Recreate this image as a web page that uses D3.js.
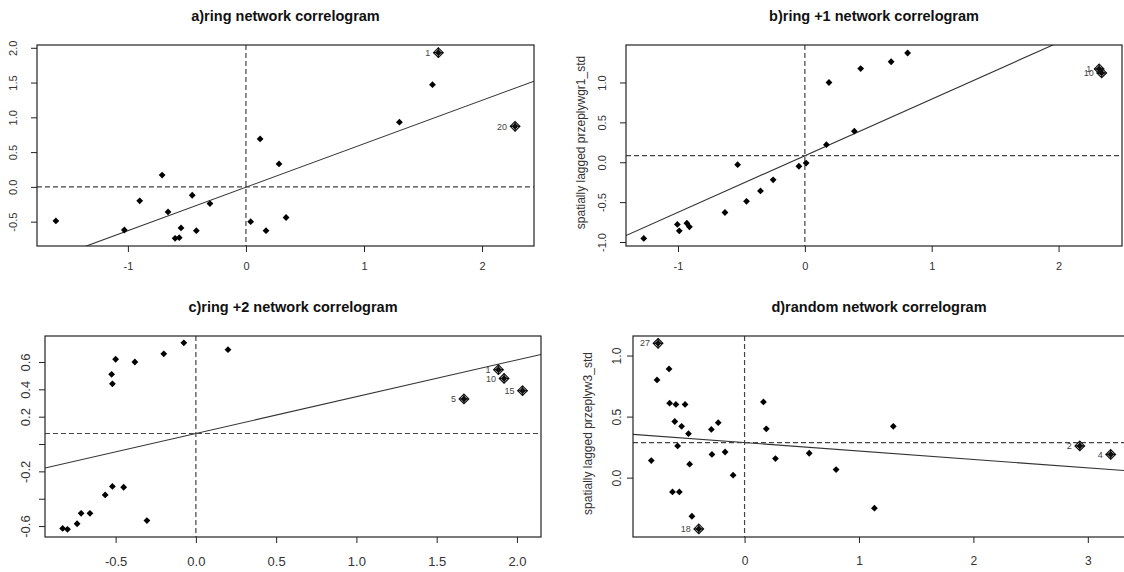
<!DOCTYPE html>
<html>
<head>
<meta charset="utf-8">
<script src="https://cdnjs.cloudflare.com/ajax/libs/d3/7.8.5/d3.min.js"></script>
<style>
body { margin: 0; background: #fff; }
svg { display: block; font-family: "Liberation Sans", Arial, sans-serif; }
</style>
</head>
<body>
<svg width="1124" height="572"></svg>
<script>
var svg = d3.select("svg");

//////////// DATA ////////////

var titles = ["a)ring network correlogram", "b)ring +1 network correlogram",
              "c)ring +2 network correlogram", "d)random network correlogram"];
var yTitles = ["", "spatially lagged przeplywgr1_std", "", "spatially lagged przeplyw3_std"];

// a) ring
var aX = [-1.61, -1.03, -0.90, -0.71, -0.66, -0.455, -0.305, -0.55, -0.60, -0.565,
          -0.42, 0.04, 0.12, 0.17, 0.28, 0.34, 1.30, 1.58, 1.63, 2.28];
var aY = [-0.49, -0.62, -0.20, 0.17, -0.36, -0.12, -0.24, -0.59, -0.74, -0.73,
          -0.63, -0.50, 0.69, -0.63, 0.33, -0.44, 0.93, 1.47, 1.93, 0.87];
var aLab = ["", "", "", "", "", "", "", "", "", "", "", "", "", "", "", "", "", "", "1", "20"];
var aXTicks = [-1, 0, 1, 2];
var aYTicks = [-0.5, 0, 0.5, 1, 1.5, 2];
var aYTickLab = ["-0.5", "0.0", "0.5", "1.0", "1.5", "2.0"];

// b) ring +1
var bX = [-1.27, -1.005, -0.99, -0.93, -0.91, -0.63, -0.53, -0.46, -0.35, -0.25,
          -0.047, 0.01, 0.17, 0.19, 0.39, 0.44, 0.68, 0.81, 2.32, 2.34];
var bY = [-0.955, -0.78, -0.86, -0.765, -0.81, -0.63, -0.03, -0.49, -0.36, -0.22,
          -0.05, -0.01, 0.22, 1.00, 0.39, 1.175, 1.26, 1.37, 1.17, 1.12];
var bLab = ["", "", "", "", "", "", "", "", "", "", "", "", "", "", "", "", "", "", "1", "10"];
var bXTicks = [-1, 0, 1, 2];
var bYTicks = [-1, -0.5, 0, 0.5, 1];
var bYTickLab = ["-1.0", "-0.5", "0.0", "0.5", "1.0"];

// c) ring +2
var cX = [-0.83, -0.80, -0.74, -0.715, -0.66, -0.565, -0.52, -0.45, -0.305, -0.52,
          -0.525, -0.50, -0.38, -0.20, -0.075, 0.20, 1.67, 1.885, 1.92, 2.035];
var cY = [-0.617, -0.624, -0.583, -0.507, -0.507, -0.372, -0.31, -0.316, -0.56, 0.44,
          0.51, 0.62, 0.60, 0.66, 0.74, 0.69, 0.33, 0.544, 0.48, 0.39];
var cLab = ["", "", "", "", "", "", "", "", "", "", "", "", "", "", "", "", "5", "1", "10", "15"];
var cXTicks = [-0.5, 0, 0.5, 1, 1.5, 2];
var cYTicks = [-0.6, -0.4, -0.2, 0, 0.2, 0.4, 0.6];
var cYTickLab = ["-0.6", "", "-0.2", "", "0.2", "0.4", "0.6"];

// d) random
var dX = [-0.756, -0.765, -0.66, -0.655, -0.60, -0.52, -0.61, -0.55, -0.49, -0.585,
          -0.815, -0.48, -0.63, -0.57, -0.46, -0.40, -0.29, -0.23, -0.285, -0.17,
          -0.10, 0.165, 0.19, 0.27, 0.565, 0.80, 1.135, 1.30, 2.93, 3.20];
var dY = [1.10, 0.80, 0.89, 0.61, 0.60, 0.60, 0.46, 0.42, 0.36, 0.26,
          0.14, 0.11, -0.117, -0.117, -0.316, -0.42, 0.395, 0.45, 0.19, 0.21,
          0.02, 0.62, 0.40, 0.156, 0.20, 0.066, -0.25, 0.42, 0.26, 0.19];
var dLab = ["27", "", "", "", "", "", "", "", "", "", "", "", "", "", "", "18", "", "", "", "",
            "", "", "", "", "", "", "", "", "2", "4"];
var dXTicks = [0, 1, 2, 3];
var dYTicks = [0, 0.5, 1];
var dYTickLab = ["0.0", "0.5", "1.0"];

// regression slope / intercept, and the means (dashed lines)
var slopes = [0.625, 0.71, 0.269, -0.069];
var intercepts = [-0.005, 0.082, 0.077, 0.287];
var meanX = [0, 0, 0, 0];
var meanY = [0, 0.082, 0.077, 0.287];

//////////// LAYOUT ////////////

var panels = [
  {x: aX, y: aY, lab: aLab, xt: aXTicks, yt: aYTicks, ytl: aYTickLab,
   xDom: [-1.77, 2.44], yDom: [-0.85, 2.04], box: [37, 45, 534, 246], fs: 11, xPad: 10, yOff: 24},
  {x: bX, y: bY, lab: bLab, xt: bXTicks, yt: bYTicks, ytl: bYTickLab,
   xDom: [-1.41, 2.50], yDom: [-1.05, 1.47], box: [626, 45, 1122, 246], fs: 11, xPad: 10, yOff: 24},
  {x: cX, y: cY, lab: cLab, xt: cXTicks, yt: cYTicks, ytl: cYTickLab,
   xDom: [-0.94, 2.15], yDom: [-0.68, 0.79], box: [45, 336, 541, 537], fs: 13, xPad: 14, yOff: 20},
  {x: dX, y: dY, lab: dLab, xt: dXTicks, yt: dYTicks, ytl: dYTickLab,
   xDom: [-0.975, 3.325], yDom: [-0.486, 1.16], box: [633, 336, 1125, 537], fs: 12, xPad: 13, yOff: 16}
];

function diamond(r) {
  return "M0," + (-r) + "L" + r + ",0L0," + r + "L" + (-r) + ",0Z";
}

// R prints a plain hyphen for negatives
function plain(f) {
  return function(d) { return f(d).replace("\u2212", "-"); };
}

panels.forEach(function(p, i) {
  var L = p.box[0], T = p.box[1], R = p.box[2], B = p.box[3];
  var x = d3.scaleLinear().domain(p.xDom).range([L, R]);
  var y = d3.scaleLinear().domain(p.yDom).range([B, T]);
  var g = svg.append("g");

  g.append("clipPath").attr("id", "clip" + i)
    .append("rect").attr("x", L).attr("y", T).attr("width", R - L).attr("height", B - T);
  var inner = g.append("g").attr("clip-path", "url(#clip" + i + ")");

  // title
  g.append("text")
    .attr("x", (L + R) / 2).attr("y", T - 24)
    .attr("text-anchor", "middle")
    .attr("font-size", 14.5).attr("font-weight", "bold").attr("fill", "#111")
    .text(titles[i]);

  // regression line
  inner.append("line")
    .attr("x1", x(p.xDom[0])).attr("y1", y(intercepts[i] + slopes[i] * p.xDom[0]))
    .attr("x2", x(p.xDom[1])).attr("y2", y(intercepts[i] + slopes[i] * p.xDom[1]))
    .attr("stroke", "#333").attr("stroke-width", 1.1);

  // mean lines
  inner.append("line")
    .attr("x1", L).attr("x2", R).attr("y1", y(meanY[i])).attr("y2", y(meanY[i]))
    .attr("stroke", "#444").attr("stroke-width", 1.2).attr("stroke-dasharray", "5,3");
  inner.append("line")
    .attr("x1", x(meanX[i])).attr("x2", x(meanX[i])).attr("y1", T).attr("y2", B)
    .attr("stroke", "#444").attr("stroke-width", 1.2).attr("stroke-dasharray", "5,3");

  // points
  var pts = p.x.map(function(v, k) { return {x: v, y: p.y[k], lab: p.lab[k]}; });
  inner.selectAll(".pt").data(pts).enter().append("path")
    .attr("class", "pt")
    .attr("transform", function(d) { return "translate(" + x(d.x) + "," + y(d.y) + ")"; })
    .attr("d", diamond(3.4)).attr("fill", "#000");

  // influential points: diamond with plus
  var hi = pts.filter(function(d) { return d.lab !== ""; });
  var hg = inner.selectAll(".hi").data(hi).enter().append("g")
    .attr("class", "hi")
    .attr("transform", function(d) { return "translate(" + x(d.x) + "," + y(d.y) + ")"; });
  hg.append("path").attr("d", diamond(4.8)).attr("fill", "none")
    .attr("stroke", "#111").attr("stroke-width", 1.2);
  hg.append("path").attr("d", "M-4.8,0H4.8M0,-4.8V4.8")
    .attr("stroke", "#111").attr("stroke-width", 1.2);
  hg.append("text")
    .attr("x", -8).attr("dy", "0.35em")
    .attr("text-anchor", "end").attr("font-size", 9).attr("fill", "#444")
    .text(function(d) { return d.lab; });

  // axes
  var xa = g.append("g").attr("transform", "translate(0," + B + ")")
    .call(d3.axisBottom(x).tickValues(p.xt).tickSize(6).tickPadding(p.xPad)
      .tickFormat(plain(i == 2 ? d3.format(".1f") : d3.format("d"))));
  var ya = g.append("g").attr("transform", "translate(" + L + ",0)")
    .call(d3.axisLeft(y).tickValues(p.yt).tickSize(6)
      .tickFormat(function(d, k) { return p.ytl[k]; }));
  [xa, ya].forEach(function(a) {
    a.select(".domain").remove();
    a.selectAll(".tick line").attr("stroke", "#222");
    a.selectAll(".tick text").attr("fill", "#333").attr("font-size", p.fs)
      .attr("font-family", "Liberation Sans, Arial, sans-serif");
  });
  ya.selectAll(".tick text")
    .attr("x", null).attr("dy", "0.35em").attr("text-anchor", "middle")
    .attr("transform", "translate(" + (-p.yOff) + ",0) rotate(-90)");

  // box
  g.append("rect").attr("x", L).attr("y", T).attr("width", R - L).attr("height", B - T)
    .attr("fill", "none").attr("stroke", "#222").attr("stroke-width", 1.2);

  // y axis title
  if (yTitles[i]) {
    g.append("text")
      .attr("transform", "translate(" + (L - 41) + "," + ((T + B) / 2 - 3) + ") rotate(-90)")
      .attr("text-anchor", "middle").attr("font-size", 12).attr("fill", "#333")
      .text(yTitles[i]);
  }
});
</script>
</body>
</html>
